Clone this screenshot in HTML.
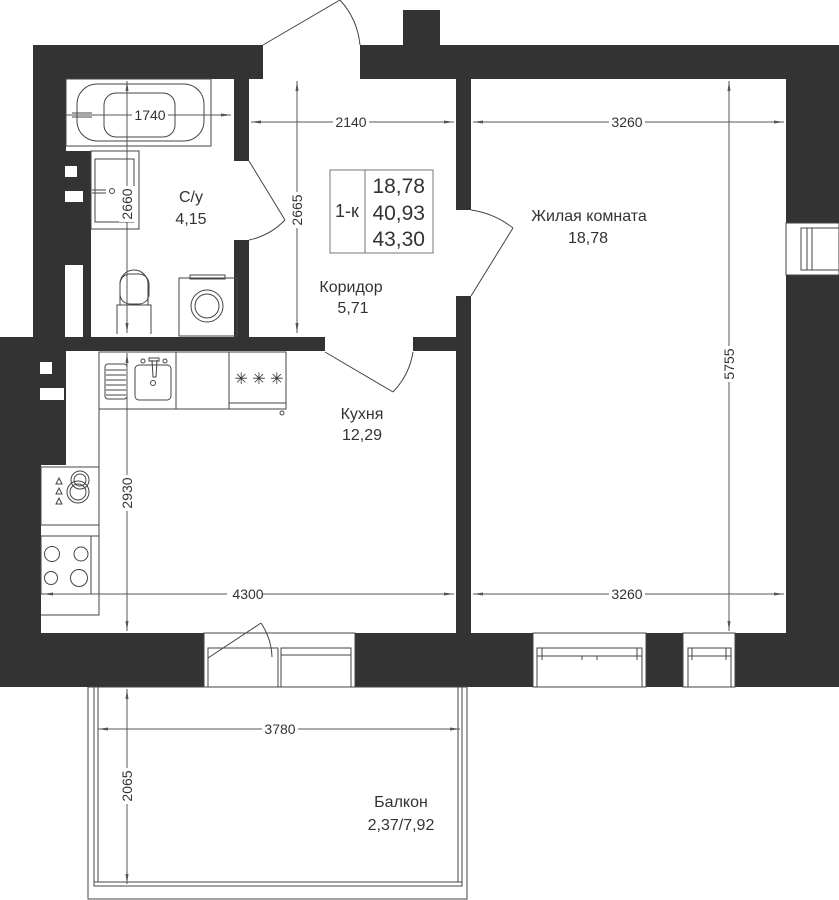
<!DOCTYPE html>
<html><head><meta charset="utf-8"><style>
html,body{margin:0;padding:0;background:#fff;}
svg{display:block;}
text{font-family:"Liberation Sans",sans-serif;fill:#333;}
</style></head><body>
<svg width="839" height="900" viewBox="0 0 839 900" xmlns="http://www.w3.org/2000/svg">
<defs>
<marker id="a" viewBox="0 0 10 6" refX="10" refY="3" markerWidth="10" markerHeight="6" orient="auto-start-reverse" markerUnits="userSpaceOnUse"><path d="M0,1.5 L10,3 L0,4.5z" fill="#555"/></marker>
</defs>
<g fill="#333">
<!-- top walls -->
<rect x="33" y="45" width="230" height="34"/>
<rect x="360" y="45" width="479" height="34"/>
<rect x="403" y="10" width="37" height="35"/>
<!-- left bath walls -->
<rect x="33" y="79" width="33" height="261"/>
<rect x="33" y="151" width="58" height="114"/>
<rect x="83" y="265" width="8" height="75"/>
<!-- bath/corridor partition -->
<rect x="234" y="79" width="15" height="82"/>
<rect x="234" y="240" width="15" height="97"/>
<!-- horizontal wall bath/kitchen -->
<rect x="0" y="337" width="325" height="14"/>
<rect x="413" y="337" width="45" height="14"/>
<!-- left kitchen wall -->
<rect x="0" y="340" width="66" height="125"/>
<rect x="0" y="465" width="41" height="168"/>
<!-- bottom walls -->
<rect x="0" y="633" width="204" height="54"/>
<rect x="355" y="633" width="178" height="54"/>
<rect x="646" y="633" width="37" height="54"/>
<rect x="735" y="633" width="104" height="54"/>
<!-- partition kitchen/living -->
<rect x="456" y="79" width="15" height="131"/>
<rect x="456" y="296" width="15" height="337"/>
<!-- right wall -->
<rect x="786" y="79" width="53" height="144"/>
<rect x="786" y="275" width="53" height="412"/>
</g>
<g fill="#fff">
<rect x="65" y="166" width="12" height="11"/>
<rect x="65" y="191" width="18" height="11"/>
<rect x="65" y="265" width="18" height="72"/>
<rect x="40" y="362" width="12" height="12"/>
<rect x="40" y="388" width="24" height="12"/>
</g>
<g fill="none" stroke="#444" stroke-width="1">
<!-- doors -->
<path d="M263,45 L340,0"/><path d="M340,0 A78,78 0 0 1 360,45"/>
<path d="M249,161 L285,220"/><path d="M285,220 A70,70 0 0 1 249,240"/>
<path d="M325,352 L393,392"/><path d="M393,392 A75,75 0 0 0 413,352"/>
<path d="M471,210 A88,88 0 0 1 513,228"/><path d="M513,228 L471,296"/>
<path d="M208,658 L261,623"/><path d="M261,623 A65,65 0 0 1 272,657"/>
<!-- bath -->
<rect x="66" y="79" width="145" height="67"/>
<rect x="77" y="84" width="127" height="57" rx="20"/>
<rect x="104" y="93" width="71" height="44" rx="12"/>
<path d="M72,113 L92,113 M72,117 L92,117"/>
<!-- sink -->
<rect x="91" y="151" width="48" height="78"/>
<rect x="95" y="159" width="39" height="63"/>
<circle cx="112" cy="191" r="2.5"/>
<path d="M92,190 L106,190 M92,193 L106,193"/>
<!-- toilet -->
<path d="M117,334 L117,305 L151,305 L151,334"/>
<path d="M120,305 L120,284 A14,14 0 0 1 148,284 L148,305"/>
<rect x="120" y="274" width="29" height="30" rx="10"/>
<!-- washer -->
<rect x="179" y="278" width="58" height="58"/>
<rect x="190" y="275" width="35" height="4"/>
<circle cx="207" cy="306" r="16"/><circle cx="207" cy="306" r="12"/>
<!-- kitchen counters -->
<rect x="99" y="352" width="130" height="57"/>
<rect x="176" y="352" width="53" height="57"/>
<rect x="229" y="352" width="57" height="57"/>
<rect x="229" y="403" width="57" height="6"/>
<circle cx="282" cy="413" r="2"/>
<rect x="105" y="364" width="22" height="35" rx="3"/>
<path d="M106,370H126 M106,375H126 M106,380H126 M106,385H126 M106,390H126 M106,395H126"/>
<rect x="135" y="365" width="36" height="35" rx="4"/>
<circle cx="143" cy="361" r="2"/><circle cx="165" cy="361" r="2"/><rect x="149" y="358" width="10" height="3"/>
<path d="M152,360 L153,377 L156,377 L157,360"/>
<circle cx="153" cy="383" r="2.5"/>
<rect x="99" y="409" width="0.1" height="0.1"/>
<path d="M99,409 L99,615 L41,615"/>
<rect x="41" y="467" width="58" height="58"/>
<circle cx="78" cy="492" r="11"/><circle cx="78" cy="492" r="8"/>
<circle cx="80" cy="480" r="9"/><circle cx="80" cy="480" r="6"/>
<path d="M56,484 l3,-6 l3,6z M56,494 l3,-6 l3,6z M56,504 l3,-6 l3,6z"/>
<rect x="41" y="536" width="58" height="58"/>
<rect x="91" y="536" width="8" height="58"/>
<circle cx="52" cy="554" r="7.5"/><circle cx="81" cy="554" r="7"/>
<circle cx="51" cy="578" r="6.5"/><circle cx="79" cy="578" r="8.5"/>
<!-- info box -->
<rect x="330" y="170" width="103" height="83" stroke="#777"/>
<path d="M365,170 V253" stroke="#777"/>
<!-- windows bottom -->
<rect x="204" y="633" width="151" height="54"/>
<rect x="208" y="648" width="70" height="39"/>
<rect x="281" y="648" width="70" height="39"/><path d="M281,655H351"/>
<rect x="533" y="633" width="113" height="54"/>
<rect x="537" y="648" width="105" height="39"/><path d="M537,656H642 M542,648V660 M637,648V660 M582,656V660 M597,656V660"/>
<rect x="683" y="633" width="52" height="54"/>
<rect x="688" y="648" width="43" height="39"/><path d="M688,656H731 M692,648V660 M726,648V660"/>
<!-- right window -->
<rect x="786" y="223" width="53" height="52"/>
<rect x="801" y="228" width="38" height="42"/>
<path d="M807,228V270 M812,228V270"/>
<!-- balcony -->
<rect x="88" y="687" width="379" height="212"/>
<path d="M94,687V886 H462 V687 M98,687V882 M458,687V882 M94,882H462"/>
</g>
<g stroke="#555" stroke-width="1" fill="none">
<path d="M127,81 V333" marker-start="url(#a)" marker-end="url(#a)"/>
<path d="M297,81 V333" marker-start="url(#a)" marker-end="url(#a)"/>
<path d="M66,115 H231" marker-end="url(#a)"/>
<path d="M251,122 H454" marker-start="url(#a)" marker-end="url(#a)"/>
<path d="M473,122 H784" marker-start="url(#a)" marker-end="url(#a)"/>
<path d="M729,81 V631" marker-start="url(#a)" marker-end="url(#a)"/>
<path d="M127,353 V631" marker-start="url(#a)" marker-end="url(#a)"/>
<path d="M43,594 H454" marker-start="url(#a)" marker-end="url(#a)"/>
<path d="M473,594 H784" marker-start="url(#a)" marker-end="url(#a)"/>
<path d="M98,729 H460" marker-start="url(#a)" marker-end="url(#a)"/>
<path d="M127,689 V884" marker-start="url(#a)" marker-end="url(#a)"/>
</g>
<g font-size="14">
<rect x="132" y="107" width="36" height="16" fill="#fff"/><text x="150" y="120" text-anchor="middle">1740</text>
<rect x="333" y="114" width="36" height="16" fill="#fff"/><text x="351" y="127" text-anchor="middle">2140</text>
<rect x="609" y="114" width="36" height="16" fill="#fff"/><text x="627" y="127" text-anchor="middle">3260</text>
<rect x="227" y="586" width="36" height="16" fill="#fff"/><text x="248" y="599" text-anchor="middle">4300</text>
<rect x="609" y="586" width="36" height="16" fill="#fff"/><text x="627" y="599" text-anchor="middle">3260</text>
<rect x="262" y="721" width="36" height="16" fill="#fff"/><text x="280" y="734" text-anchor="middle">3780</text>
<rect x="119" y="186" width="16" height="36" fill="#fff"/><text transform="translate(132,204) rotate(-90)" text-anchor="middle">2660</text>
<rect x="289" y="192" width="16" height="36" fill="#fff"/><text transform="translate(302,210) rotate(-90)" text-anchor="middle">2665</text>
<rect x="119" y="475" width="16" height="36" fill="#fff"/><text transform="translate(132,493) rotate(-90)" text-anchor="middle">2930</text>
<rect x="721" y="346" width="16" height="36" fill="#fff"/><text transform="translate(734,364) rotate(-90)" text-anchor="middle">5755</text>
<rect x="119" y="768" width="16" height="36" fill="#fff"/><text transform="translate(132,786) rotate(-90)" text-anchor="middle">2065</text>
</g>
<g font-size="16" text-anchor="middle">
<text x="191" y="202">С/у</text><text x="191" y="224">4,15</text>
<text x="351" y="292">Коридор</text><text x="353" y="313">5,71</text>
<text x="362" y="419">Кухня</text><text x="362" y="440">12,29</text>
<text x="589" y="221">Жилая комната</text><text x="588" y="243">18,78</text>
<text x="401" y="807">Балкон</text><text x="401" y="830">2,37/7,92</text>
<text x="347" y="217" font-size="18">1-к</text>
</g>
<g font-size="21" text-anchor="end">
<text x="425" y="193">18,78</text><text x="425" y="220">40,93</text><text x="425" y="246">43,30</text>
</g>
<g font-size="13" fill="#444" text-anchor="middle"><text x="259" y="384" font-size="16">✳ ✳ ✳</text></g>
</svg>
</body></html>
